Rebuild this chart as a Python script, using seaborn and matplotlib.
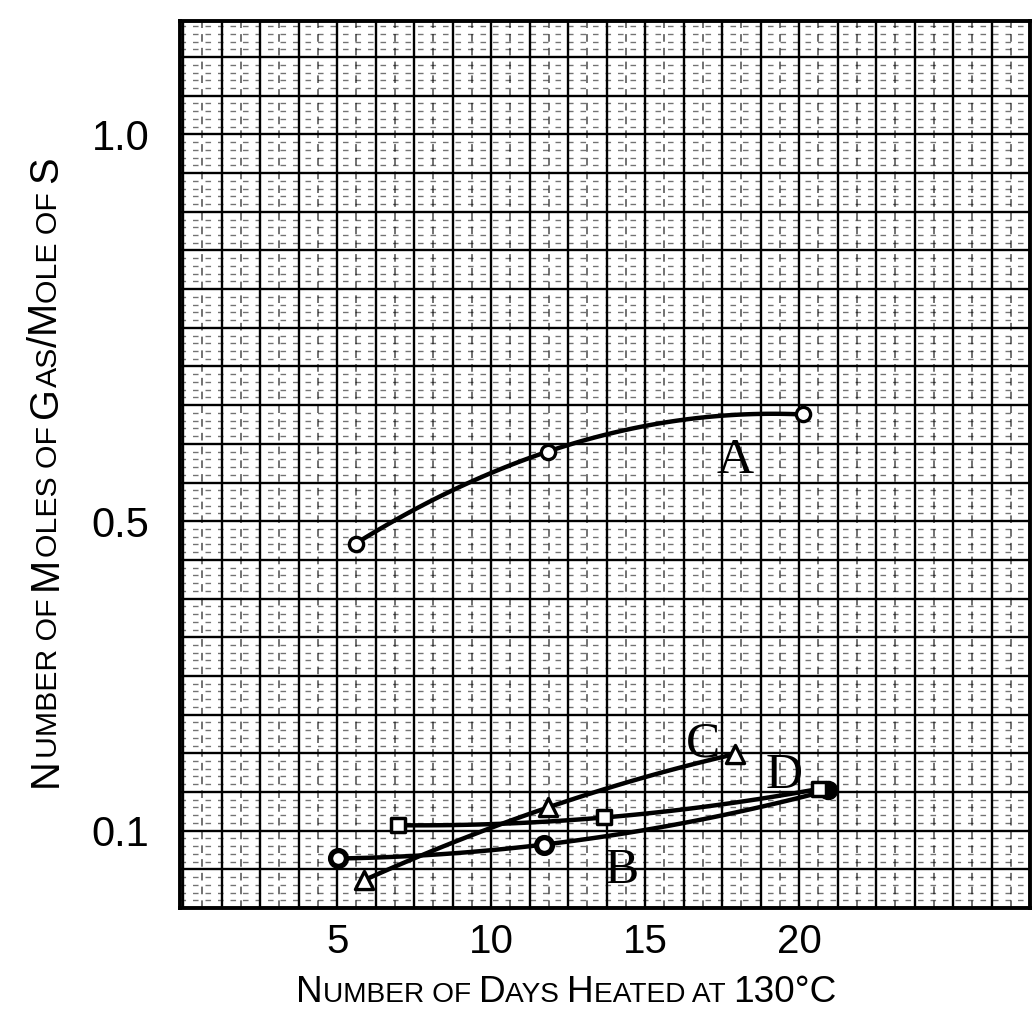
import numpy as np
import pandas as pd
import matplotlib
matplotlib.use("Agg")
import matplotlib.pyplot as plt
import seaborn as sns
from matplotlib.ticker import FixedLocator

# ---- data ----
days_A = [5.60, 11.84, 20.12]
gas_A = [0.471, 0.590, 0.638]
days_B = [5.03, 11.72, 20.94]
gas_B = [0.064, 0.082, 0.152]
days_C = [5.88, 11.85, 17.92]
gas_C = [0.036, 0.130, 0.199]
days_D = [6.98, 13.67, 20.65]
gas_D = [0.107, 0.117, 0.154]

curve_names = ["A", "B", "C", "D"]
label_x = [17.92, 14.25, 16.88, 19.51]
label_y = [0.578, 0.048, 0.212, 0.171]

x_ticks = [5, 10, 15, 20]
x_ticklabels = ["5", "10", "15", "20"]
y_ticks = [0.1, 0.5, 1.0]
y_ticklabels = ["0.1", "0.5", "1.0"]

xlabel = "Number of Days Heated at 130°C"
ylabel = "Number of Moles of Gas/Mole of S"

sns.set_style("white")
plt.rcParams["font.family"] = ["Liberation Sans", "DejaVu Sans"]

W, H = 1032, 1013
fig = plt.figure(figsize=(W / 100, H / 100), dpi=100)
ax = fig.add_axes([180 / W, 1 - 908 / H, 850 / W, (908 - 20.7) / H])
ax.set_xlim(-0.1, 27.5)
ax.set_ylim(0, 1.147)

# graph-paper grid
xt = ax.get_xaxis_transform()
yt = ax.get_yaxis_transform()
ax.vlines(np.arange(0.625, 27.5, 1.25), 0, 1, transform=xt, colors="black",
          linewidth=1.1, linestyles=(0, (5, 4)), alpha=0.7, zorder=0.5)
hminor = [v for v in np.arange(0.01, 1.15, 0.01) if abs(v / 0.05 - round(v / 0.05)) > 1e-6]
ax.hlines(hminor, 0, 1, transform=yt, colors="black",
          linewidth=1.0, linestyles=(0, (4, 5)), alpha=0.55, zorder=0.5)
ax.vlines(np.arange(0, 27.5, 1.25), 0, 1, transform=xt, colors="black",
          linewidth=1.7, zorder=0.6)
ax.hlines(np.arange(0.05, 1.15, 0.05), 0, 1, transform=yt, colors="black",
          linewidth=1.7, zorder=0.6)

# curves (quadratic through the three readings of each series)
for dx, gy in [(days_A, gas_A), (days_B, gas_B), (days_C, gas_C), (days_D, gas_D)]:
    sns.regplot(x=np.array(dx), y=np.array(gy), order=2, ci=None, scatter=False,
                ax=ax, line_kws=dict(color="black", linewidth=3.2, zorder=3))

# markers
sns.scatterplot(x=days_A, y=gas_A, marker="o", s=105, facecolor="white",
                edgecolor="black", linewidth=2.4, ax=ax, zorder=4)
sns.scatterplot(x=days_C, y=gas_C, marker="^", s=170, facecolor="white",
                edgecolor="black", linewidth=2.4, ax=ax, zorder=4)
sns.scatterplot(x=days_B[:2], y=gas_B[:2], marker="o", s=130, facecolor="white",
                edgecolor="black", linewidth=3.8, ax=ax, zorder=4)
sns.scatterplot(x=days_B[2:], y=gas_B[2:], marker="o", s=170, facecolor="black",
                edgecolor="black", linewidth=1.0, ax=ax, zorder=4)
sns.scatterplot(x=days_D, y=gas_D, marker="s", s=95, facecolor="white",
                edgecolor="black", linewidth=2.5, ax=ax, zorder=5)

for name, lx, ly in zip(curve_names, label_x, label_y):
    ax.text(lx, ly, name, fontsize=37, ha="center", va="center", color="black",
            family=["Liberation Serif", "DejaVu Serif"], zorder=6)

# axes styling
for s in ax.spines.values():
    s.set_visible(True)
    s.set_color("black")
    s.set_linewidth(2.8)
ax.xaxis.set_major_locator(FixedLocator(x_ticks))
ax.set_xticklabels(x_ticklabels, fontsize=29)
ax.yaxis.set_major_locator(FixedLocator(y_ticks))
ax.set_yticklabels(y_ticklabels, fontsize=30)
ax.tick_params(axis="x", direction="in", length=7, width=2.5, pad=11, colors="black")
ax.tick_params(axis="y", length=0, pad=22, colors="black")
ax.set_xlabel("")
ax.set_ylabel("")


def small_caps(text, cx, cy, big, target, rotation=0, ratio=0.76):
    renderer = fig.canvas.get_renderer()

    def make_runs(bsize):
        ssize = bsize * ratio
        runs = []
        for ch in text:
            size = bsize if (ch.isupper() or ch.isdigit() or ch in "/°") else ssize
            if runs and runs[-1][1] == size:
                runs[-1][0] += ch.upper()
            else:
                runs.append([ch.upper(), size])
        widths = []
        for s, size in runs:
            t = fig.text(0, 0, s, fontsize=size)
            widths.append(t.get_window_extent(renderer).width)
            t.remove()
        return runs, widths

    runs, widths = make_runs(big)
    big = big * target / sum(widths)
    runs, widths = make_runs(big)
    total = sum(widths)
    pos = (cx if rotation == 0 else cy) - total / 2
    for (s, size), w in zip(runs, widths):
        if rotation == 0:
            fig.text(pos / W, cy / H, s, fontsize=size, ha="left", va="baseline",
                     color="black")
        else:
            fig.text(cx / W, pos / H, s, fontsize=size, ha="left", va="baseline",
                     rotation=90, rotation_mode="anchor", color="black")
        pos += w


fig.canvas.draw()
small_caps(xlabel, 566, H - 1002, 30, 540)
small_caps(ylabel, 57, H - 472, 30, 630, rotation=90)

fig.savefig("out.png", dpi=100, facecolor="white")
